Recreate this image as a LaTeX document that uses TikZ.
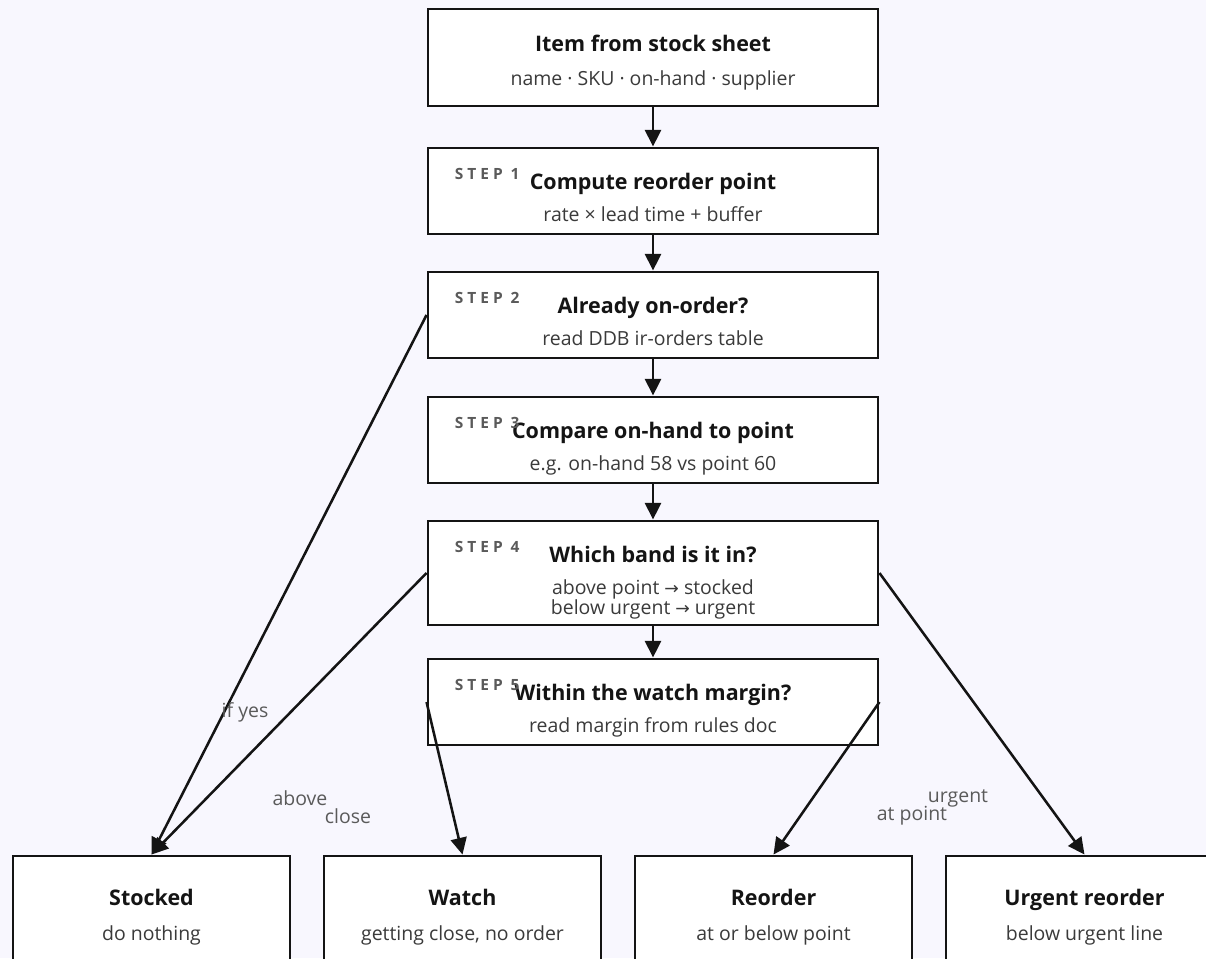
\documentclass[tikz,border=0pt]{standalone}
\usepackage{fontspec}
\setmainfont{Open Sans}
\newfontfamily\symfont{DejaVu Sans}
\usetikzlibrary{arrows.meta, positioning, calc}

\definecolor{paper}{HTML}{F8F7FE}
\definecolor{ink}{HTML}{141414}
\definecolor{subink}{HTML}{3A3A3A}
\definecolor{tagink}{HTML}{5A5A5A}
\newcommand{\toarr}{{\symfont\fontsize{13}{15}\selectfont →}}

\begin{document}
\begin{tikzpicture}[x=0.75pt, y=-0.75pt, >={Triangle[length=12.5pt, width=12pt]},
    box/.style={draw=ink, fill=white, line width=2.2pt, inner sep=0pt,
                minimum width=337.5pt, minimum height=64.5pt},
    endbox/.style={box, minimum width=207.75pt, minimum height=82.5pt},
    title/.style={anchor=base, inner sep=0pt, text=ink, font=\fontsize{16.1}{19}\selectfont\bfseries},
    sub/.style={anchor=base, inner sep=0pt, text=subink, font=\fontsize{14.6}{17}\selectfont},
    steptag/.style={anchor=base west, inner sep=0pt, text=tagink,
                    font=\fontsize{11.6}{14}\selectfont\bfseries\addfontfeatures{LetterSpace=26}},
    flow/.style={->, draw=ink, line width=1.9pt},
    tag/.style={inner sep=0pt, text=tagink, font=\fontsize{14.6}{17}\selectfont}]

        % Fondo y marco de la imagen
        \fill[paper] (0,0) rectangle (1206,958);
        \useasboundingbox (0,0) rectangle (1206,958);

        % Caja de entrada
        \node[box, minimum height=72.75pt] (item) at (653,57.5) {};
        \node[title] (itemT) at ($(item.north)+(0,44)$) {Item from stock sheet};
        \node[sub] (itemS) at ($(item.north)+(0,78)$) {name · SKU · on-hand · supplier};

        % Pasos 1 a 5
        \node[box] (s1) at (653,191) {};
        \node[title] (s1T) at ($(s1.north)+(0,43)$) {Compute reorder point};
        \node[sub] (s1S) at ($(s1.north)+(0,75)$) {rate × lead time + buffer};
        \node[steptag] (s1N) at ($(s1.north west)+(28,33)$) {STEP 1};

        \node[box] (s2) at (653,315) {};
        \node[title] (s2T) at ($(s2.north)+(0,43)$) {Already on-order?};
        \node[sub] (s2S) at ($(s2.north)+(0,75)$) {read DDB ir-orders table};
        \node[steptag] (s2N) at ($(s2.north west)+(28,33)$) {STEP 2};

        \node[box] (s3) at (653,440) {};
        \node[title] (s3T) at ($(s3.north)+(0,43)$) {Compare on-hand to point};
        \node[sub] (s3S) at ($(s3.north)+(0,75)$) {e.g. on-hand 58 vs point 60};
        \node[steptag] (s3N) at ($(s3.north west)+(28,33)$) {STEP 3};

        \node[box, minimum height=78pt] (s4) at (653,573) {};
        \node[title] (s4T) at ($(s4.north)+(0,43)$) {Which band is it in?};
        \node[sub] (s4S) at ($(s4.north)+(0,75)$) {above point \toarr{} stocked};
        \node[sub] (s4U) at ($(s4.north)+(0,95)$) {below urgent \toarr{} urgent};
        \node[steptag] (s4N) at ($(s4.north west)+(28,33)$) {STEP 4};

        \node[box] (s5) at (653,702) {};
        \node[title] (s5T) at ($(s5.north)+(0,43)$) {Within the watch margin?};
        \node[sub] (s5S) at ($(s5.north)+(0,75)$) {read margin from rules doc};
        \node[steptag] (s5N) at ($(s5.north west)+(28,33)$) {STEP 5};

        % Resultados (cortados por el borde inferior)
        \node[endbox] (stocked) at (151.5,911) {};
        \node[title] (stockedT) at ($(stocked.north)+(0,51)$) {Stocked};
        \node[sub] (stockedS) at ($(stocked.north)+(0,86)$) {do nothing};

        \node[endbox] (watch) at (462.5,911) {};
        \node[title] (watchT) at ($(watch.north)+(0,51)$) {Watch};
        \node[sub] (watchS) at ($(watch.north)+(0,86)$) {getting close, no order};

        \node[endbox] (reorder) at (773.5,911) {};
        \node[title] (reorderT) at ($(reorder.north)+(0,51)$) {Reorder};
        \node[sub] (reorderS) at ($(reorder.north)+(0,86)$) {at or below point};

        \node[endbox] (urgent) at (1084.5,911) {};
        \node[title] (urgentT) at ($(urgent.north)+(0,51)$) {Urgent reorder};
        \node[sub] (urgentS) at ($(urgent.north)+(0,86)$) {below urgent line};

        % Flujo principal
        \draw[flow] (item) -- (s1);
        \draw[flow] (s1) -- (s2);
        \draw[flow] (s2) -- (s3);
        \draw[flow] (s3) -- (s4);
        \draw[flow] (s4) -- (s5);

        % Ramas hacia los resultados
        \draw[flow] (s2.west) -- (stocked.north);
        \draw[flow] (s4.west) -- (stocked.north);
        \draw[flow] (s5.west) -- (watch.north);
        \draw[flow] (s5.east) -- (reorder.north);
        \draw[flow] (s4.east) -- (urgent.north);

        % Etiquetas de las ramas
        \node[tag] (lYes) at (245,712) {if yes};
        \node[tag] (lAbove) at (300,798) {above};
        \node[tag] (lClose) at (348,816) {close};
        \node[tag] (lUrgent) at (958,798) {urgent};
        \node[tag] (lPoint) at (912,816) {at point};

    \end{tikzpicture}
\end{document}
